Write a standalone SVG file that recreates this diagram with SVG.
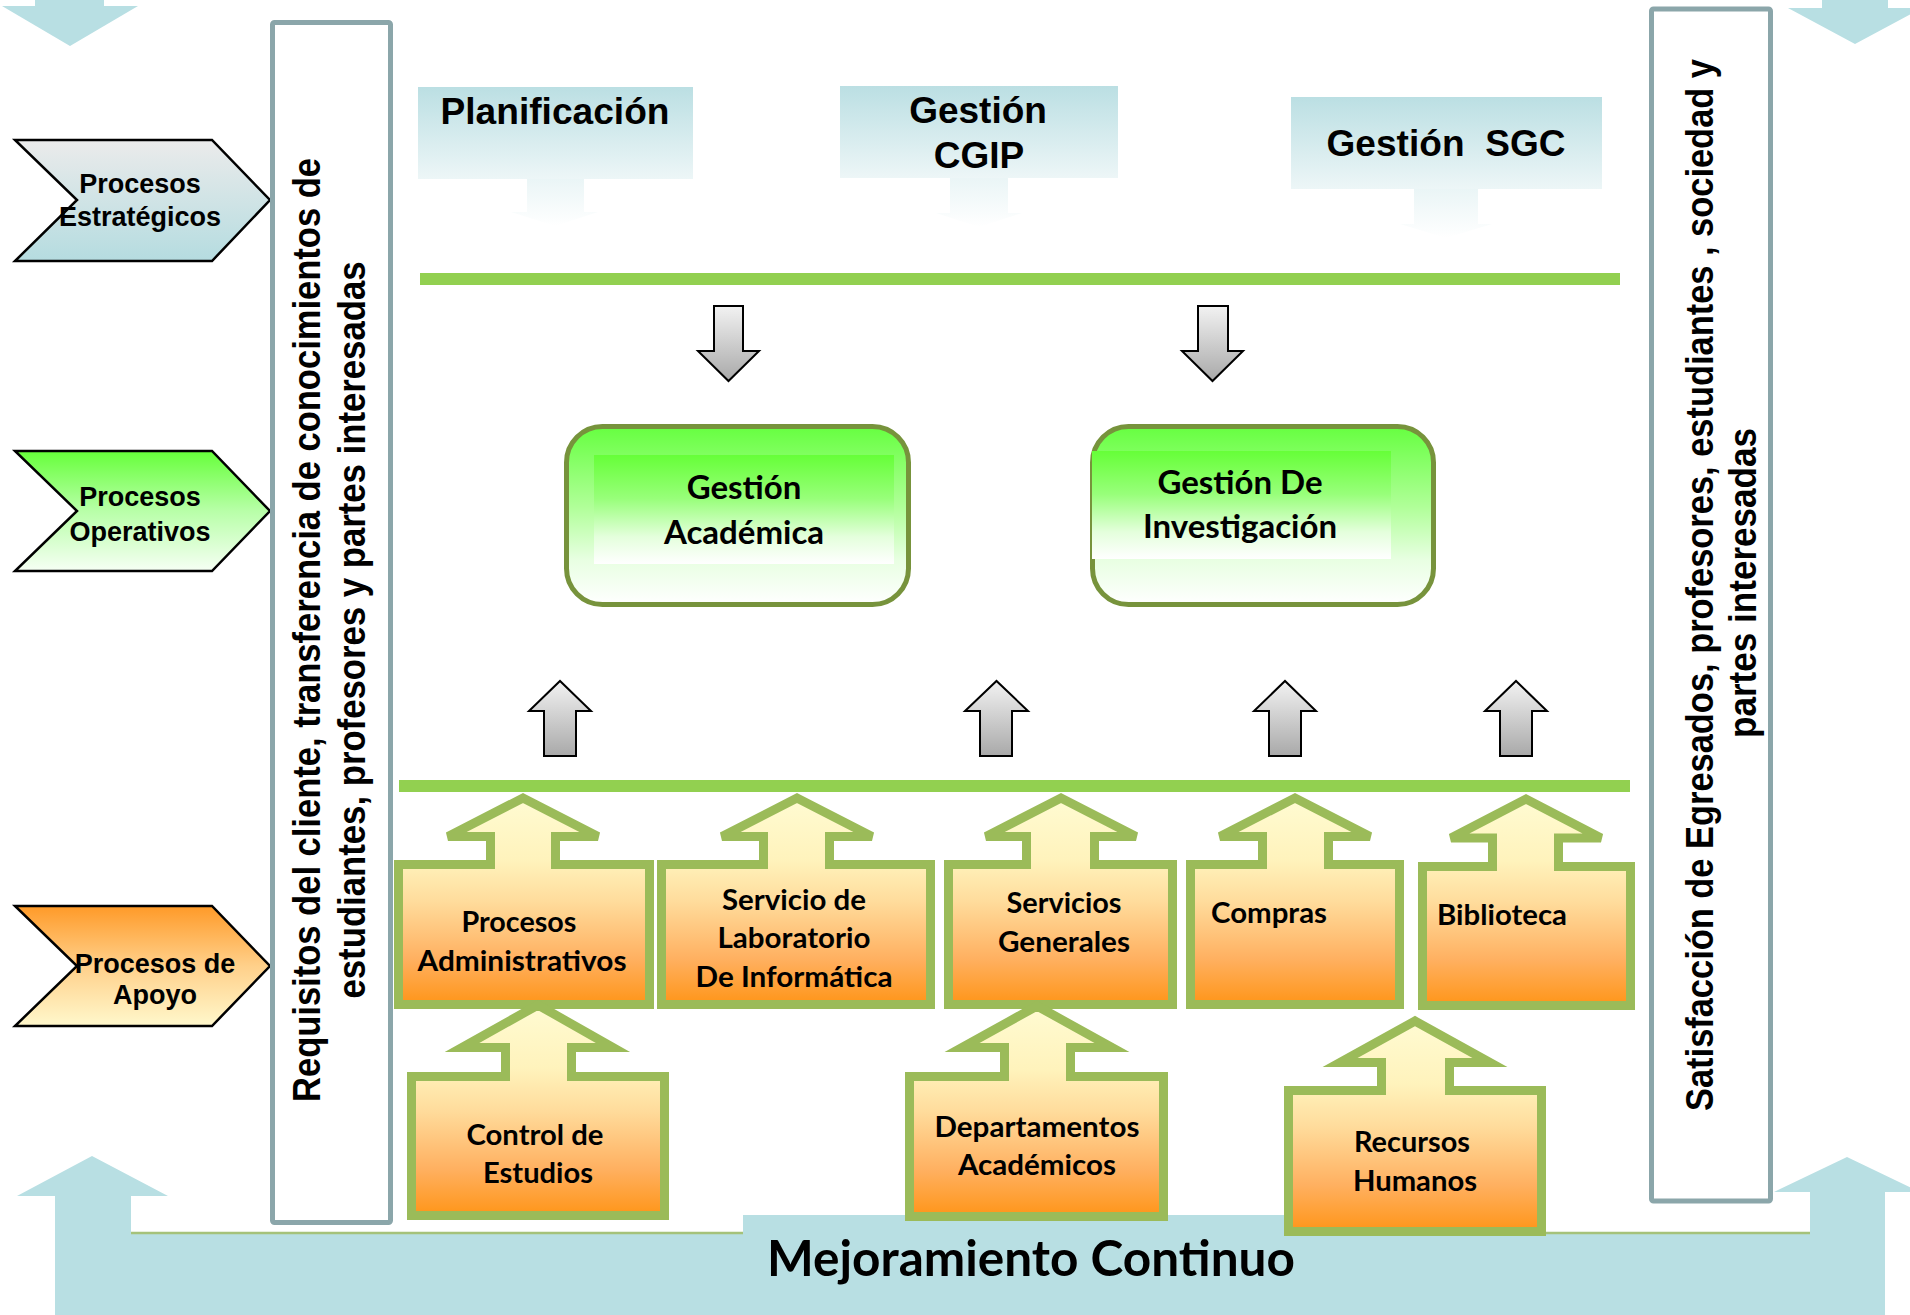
<svg xmlns="http://www.w3.org/2000/svg" width="1910" height="1315" viewBox="0 0 1910 1315">
<defs>
<linearGradient id="gEst" x1="0" y1="0" x2="0" y2="1"><stop offset="0" stop-color="#ebebeb"/><stop offset="1" stop-color="#b5dce0"/></linearGradient>
<linearGradient id="gOpe" x1="0" y1="0" x2="0" y2="1"><stop offset="0" stop-color="#66ff3a"/><stop offset="0.5" stop-color="#b8ffa8"/><stop offset="1" stop-color="#f6fff4"/></linearGradient>
<linearGradient id="gApo" x1="0" y1="0" x2="0" y2="1"><stop offset="0" stop-color="#ff9a28"/><stop offset="0.5" stop-color="#ffd08a"/><stop offset="1" stop-color="#fff8cc"/></linearGradient>
<linearGradient id="gTop" x1="0" y1="0" x2="0" y2="1"><stop offset="0" stop-color="#bbdfe3"/><stop offset="1" stop-color="#edf6f7"/></linearGradient>
<linearGradient id="gStem" x1="0" y1="0" x2="0" y2="1"><stop offset="0" stop-color="#eaf5f6"/><stop offset="1" stop-color="#ffffff"/></linearGradient>
<linearGradient id="gGray" x1="0" y1="0" x2="0" y2="1"><stop offset="0" stop-color="#f2f2f2"/><stop offset="1" stop-color="#a9a9a9"/></linearGradient>
<linearGradient id="gGreenOut" x1="0" y1="0" x2="0" y2="1"><stop offset="0" stop-color="#66ff40"/><stop offset="0.45" stop-color="#b0ff98"/><stop offset="0.75" stop-color="#e8ffe2"/><stop offset="1" stop-color="#ffffff"/></linearGradient>
<linearGradient id="gGreenIn" x1="0" y1="0" x2="0" y2="1"><stop offset="0" stop-color="#66ff38"/><stop offset="0.4" stop-color="#98ff7a"/><stop offset="0.75" stop-color="#e4ffdc"/><stop offset="1" stop-color="#ffffff"/></linearGradient>
<linearGradient id="gSup" x1="0" y1="0" x2="0" y2="1"><stop offset="0" stop-color="#fffbd2"/><stop offset="0.3" stop-color="#fff3bc"/><stop offset="0.5" stop-color="#ffdc9c"/><stop offset="0.78" stop-color="#ffb060"/><stop offset="1" stop-color="#ff9518"/></linearGradient>
</defs>
<style>
.chev{stroke:#000;stroke-width:2.5;stroke-linejoin:miter}
.ct{font-family:"Liberation Sans",Arial,sans-serif;font-weight:bold;font-size:27px;fill:#000;text-anchor:middle}
.vbox{fill:#fff;stroke:#8ba6aa;stroke-width:5}
.vt{font-family:"Liberation Sans",Arial,sans-serif;font-weight:bold;font-size:33px;fill:#000;text-anchor:middle}
.tbox{fill:url(#gTop)}
.stem{fill:url(#gStem)}
.tt{font-family:"Liberation Sans",Arial,sans-serif;font-weight:bold;font-size:37px;fill:#000;text-anchor:middle}
.bar{fill:#92d050}
.garr{fill:url(#gGray);stroke:#000;stroke-width:2;stroke-linejoin:miter}
.opo{fill:url(#gGreenOut);stroke:#77933c;stroke-width:5}
.opi{fill:url(#gGreenIn)}
.ot{font-family:Lato,"Open Sans",sans-serif;font-weight:bold;font-size:33px;fill:#000;text-anchor:middle}
.sup{fill:url(#gSup);stroke:#9bbb59;stroke-width:9;stroke-linejoin:miter}
.st{font-family:Lato,"Open Sans",sans-serif;font-weight:bold;font-size:29px;fill:#000;text-anchor:middle}
.sl{text-anchor:start}
.blue{fill:#b8dfe3}
.thin{stroke:#a5c27a;stroke-width:2.5}
.mt{font-family:Lato,"Open Sans",sans-serif;font-weight:bold;font-size:50px;fill:#000;text-anchor:middle}
</style>

<g id="bg-arrows">
<path class="blue" d="M35,0 H104 V6 H138 L70,46 L2,6 H35 Z"/>
<path class="blue" d="M1822,0 H1888 V8 H1922 L1855,44 L1788,8 H1822 Z"/>
</g>

<g id="mejoramiento">
<path class="blue" d="M55,1315 V1196 H17 L92,1156 L168,1196 H131 V1233 H743 V1215 H1546 V1233 H1810 V1192 H1774 L1847,1157 L1920,1192 H1885 V1315 Z"/>
<line class="thin" x1="131" y1="1233" x2="743" y2="1233"/>
<line class="thin" x1="1546" y1="1233" x2="1810" y2="1233"/>
<text class="mt" x="1031" y="1276" textLength="528" lengthAdjust="spacingAndGlyphs">Mejoramiento Continuo</text>
</g>

<g id="chevron-estrategicos">
<path class="chev" fill="url(#gEst)" d="M15,140 H212 L270,200 L212,261 H15 L77,200 Z"/>
<text class="ct" x="140" y="193">Procesos</text>
<text class="ct" x="140" y="226">Estratégicos</text>
</g>
<g id="chevron-operativos">
<path class="chev" fill="url(#gOpe)" d="M15,451 H212 L270,511 L212,571 H15 L77,511 Z"/>
<text class="ct" x="140" y="506">Procesos</text>
<text class="ct" x="140" y="541">Operativos</text>
</g>
<g id="chevron-apoyo">
<path class="chev" fill="url(#gApo)" d="M15,906 H212 L270,966 L212,1026 H15 L77,966 Z"/>
<text class="ct" x="155" y="973">Procesos de</text>
<text class="ct" x="155" y="1004">Apoyo</text>
</g>

<g id="requisitos">
<rect class="vbox" x="272.5" y="22.5" width="118" height="1200" rx="2"/>
<text class="vt" transform="translate(320,630) rotate(-90) scale(1,1.15)" textLength="944" lengthAdjust="spacingAndGlyphs">Requisitos del cliente, transferencia de conocimientos de</text>
<text class="vt" transform="translate(365,630) rotate(-90) scale(1,1.15)" textLength="737" lengthAdjust="spacingAndGlyphs">estudiantes, profesores y partes interesadas</text>
</g>

<g id="satisfaccion">
<rect class="vbox" x="1651.5" y="9" width="119" height="1192" rx="2"/>
<text class="vt" transform="translate(1713,585) rotate(-90) scale(1,1.15)" textLength="1052" lengthAdjust="spacingAndGlyphs">Satisfacción de Egresados, profesores, estudiantes , sociedad y</text>
<text class="vt" transform="translate(1756,583) rotate(-90) scale(1,1.15)" textLength="310" lengthAdjust="spacingAndGlyphs">partes interesadas</text>
</g>

<g id="planificacion">
<path class="stem" d="M527,179 H584 V212 H598 L555,226 L511,212 H527 Z"/>
<rect class="tbox" x="418" y="87" width="275" height="92"/>
<text class="tt" x="555" y="124" textLength="229" lengthAdjust="spacingAndGlyphs">Planificación</text>
</g>
<g id="gestion-cgip">
<path class="stem" d="M950,178 H1008 V213 H1022 L979,227 L936,213 H950 Z"/>
<rect class="tbox" x="840" y="86" width="278" height="92"/>
<text class="tt" x="978" y="123">Gestión</text>
<text class="tt" x="979" y="168">CGIP</text>
</g>
<g id="gestion-sgc">
<path class="stem" d="M1414,189 H1478 V224 H1492 L1446,238 L1400,224 H1414 Z"/>
<rect class="tbox" x="1291" y="97" width="311" height="92"/>
<text class="tt" x="1446" y="156" xml:space="preserve" textLength="239" lengthAdjust="spacing">Gestión  SGC</text>
</g>

<g id="connectors">
<rect class="bar" x="420" y="273" width="1200" height="12"/>
<rect class="bar" x="399" y="780" width="1231" height="12"/>
<path class="garr" d="M714,306 H743 V351 H759 L728.5,381 L698,351 H714 Z"/>
<path class="garr" d="M1198,306 H1228 V351 H1243 L1212.5,381 L1182,351 H1198 Z"/>
<path class="garr" d="M544,756 V711 H529 L560,681 L591,711 H576 V756 Z"/>
<path class="garr" d="M980,756 V711 H965 L996.5,681 L1028,711 H1012 V756 Z"/>
<path class="garr" d="M1269,756 V711 H1254 L1285,681 L1316,711 H1301 V756 Z"/>
<path class="garr" d="M1500,756 V711 H1485 L1516,681 L1547,711 H1532 V756 Z"/>
</g>

<g id="gestion-academica">
<rect class="opo" x="566.5" y="426.5" width="342" height="178" rx="36"/>
<rect class="opi" x="594" y="455" width="300" height="109"/>
<text class="ot" x="744" y="499">Gestión</text>
<text class="ot" x="744" y="544">Académica</text>
</g>
<g id="gestion-investigacion">
<rect class="opo" x="1092.5" y="426.5" width="341" height="178" rx="36"/>
<rect class="opi" x="1092" y="451" width="299" height="108"/>
<text class="ot" x="1240" y="494">Gestión De</text>
<text class="ot" x="1240" y="538">Investigación</text>
</g>

<g id="procesos-administrativos">
<path class="sup" d="M398.5,864.5 H490.5 V836.5 H448 L523,798 L598,836.5 H555.5 V864.5 H649.5 V1004.5 H398.5 Z"/>
<text class="st" x="519" y="932" textLength="115" lengthAdjust="spacingAndGlyphs">Procesos</text>
<text class="st" x="522" y="971" textLength="209" lengthAdjust="spacingAndGlyphs">Administrativos</text>
</g>
<g id="servicio-laboratorio">
<path class="sup" d="M661.5,864.5 H763.5 V836.5 H722 L797,798 L872,836.5 H829.5 V864.5 H930.5 V1004.5 H661.5 Z"/>
<text class="st" x="794" y="910" textLength="144" lengthAdjust="spacingAndGlyphs">Servicio de</text>
<text class="st" x="794" y="948" textLength="153" lengthAdjust="spacingAndGlyphs">Laboratorio</text>
<text class="st" x="794" y="987" textLength="197" lengthAdjust="spacingAndGlyphs">De Informática</text>
</g>
<g id="servicios-generales">
<path class="sup" d="M948.5,864.5 H1026.5 V836.5 H986 L1061,798 L1136,836.5 H1094.5 V864.5 H1172.5 V1004.5 H948.5 Z"/>
<text class="st" x="1064" y="913" textLength="115" lengthAdjust="spacingAndGlyphs">Servicios</text>
<text class="st" x="1064" y="952" textLength="132" lengthAdjust="spacingAndGlyphs">Generales</text>
</g>
<g id="compras">
<path class="sup" d="M1190.5,864.5 H1262.5 V836.5 H1220 L1295,798 L1370,836.5 H1328.5 V864.5 H1399.5 V1004.5 H1190.5 Z"/>
<text class="st sl" x="1211" y="923" textLength="116" lengthAdjust="spacingAndGlyphs">Compras</text>
</g>
<g id="biblioteca">
<path class="sup" d="M1422.5,866.5 H1492.5 V838 H1451 L1526,799 L1601,838 H1558.5 V866.5 H1630.5 V1005.5 H1422.5 Z"/>
<text class="st sl" x="1437" y="925" textLength="130" lengthAdjust="spacingAndGlyphs">Biblioteca</text>
</g>
<g id="control-estudios">
<path class="sup" d="M411.5,1076.5 H505.5 V1047.5 H462 L538,1005 L613,1047.5 H571.5 V1076.5 H664.5 V1215.5 H411.5 Z"/>
<text class="st" x="535" y="1145" textLength="137" lengthAdjust="spacingAndGlyphs">Control de</text>
<text class="st" x="538" y="1183" textLength="110" lengthAdjust="spacingAndGlyphs">Estudios</text>
</g>
<g id="departamentos-academicos">
<path class="sup" d="M909.5,1076.5 H1004.5 V1047.5 H962 L1037,1006 L1112,1047.5 H1070.5 V1076.5 H1163.5 V1216.5 H909.5 Z"/>
<text class="st" x="1037" y="1137" textLength="205" lengthAdjust="spacingAndGlyphs">Departamentos</text>
<text class="st" x="1037" y="1175" textLength="158" lengthAdjust="spacingAndGlyphs">Académicos</text>
</g>
<g id="recursos-humanos">
<path class="sup" d="M1288.5,1090.5 H1381.5 V1062.5 H1340 L1415,1021 L1490,1062.5 H1449.5 V1090.5 H1541.5 V1231.5 H1288.5 Z"/>
<text class="st" x="1412" y="1152" textLength="116" lengthAdjust="spacingAndGlyphs">Recursos</text>
<text class="st" x="1415" y="1191" textLength="124" lengthAdjust="spacingAndGlyphs">Humanos</text>
</g>
</svg>
